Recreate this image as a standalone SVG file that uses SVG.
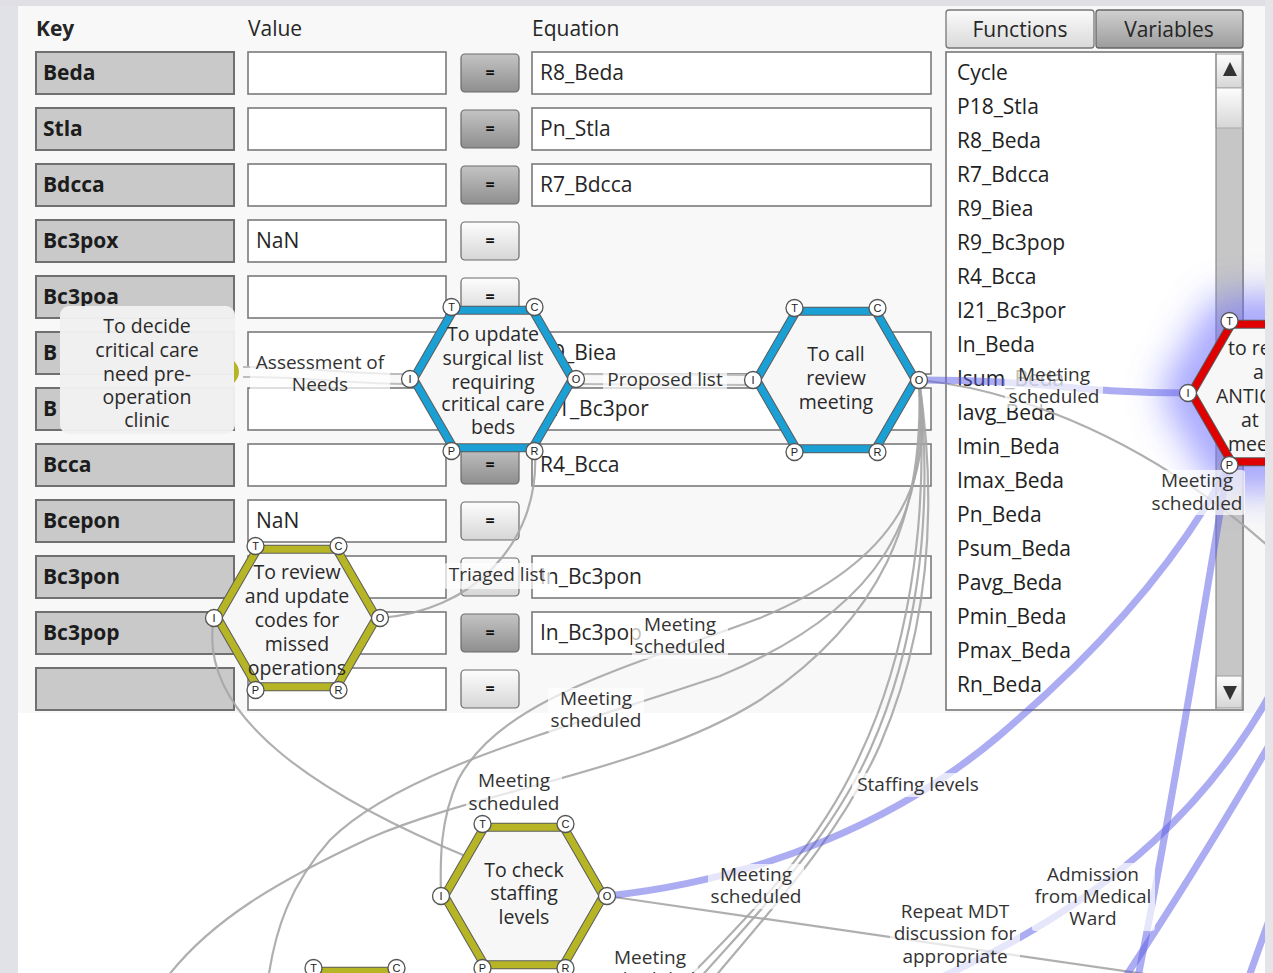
<svg xmlns="http://www.w3.org/2000/svg" width="1273" height="973" viewBox="0 0 1273 973">
<defs>
<style>
text{font-family:"Open Sans","Noto Sans","Liberation Sans",sans-serif;fill:#262626}
.hdr{font-size:21px}
.key{fill:#c9c9c9;stroke:#707070;stroke-width:2}
.keyt{font-size:21px;font-weight:700;fill:#1c1c1c}
.cell{fill:#fff;stroke:#7a7a7a;stroke-width:1.6}
.ct{font-size:21px}
.btn{stroke:#6a6a6a;stroke-width:1.2}
.bl{fill:url(#gBtnL)}
.bd{fill:url(#gBtnD)}
.eqs{font-size:16px;font-weight:700;text-anchor:middle;fill:#111}
.li{font-size:21px;fill:#222}
.hexfill{fill:#f7f7f7}
.ringout{fill:none;stroke:#5c5c5c;stroke-width:9}
.rblue{fill:none;stroke:#1aa0d4;stroke-width:7}
.rolive{fill:none;stroke:#b5b525;stroke-width:7}
.rred{fill:none;stroke:#e00000;stroke-width:7}
.ht{font-size:19.5px;text-anchor:middle;fill:#2a2a2a}
.hs{font-size:19.5px;text-anchor:start;fill:#2a2a2a}
.port{fill:#fff;stroke:#555;stroke-width:1.3}
.pt{font-family:"Liberation Sans",sans-serif;font-size:11px;text-anchor:middle;fill:#222}
.gray{fill:none;stroke:#a6a6a6;stroke-width:2.2;opacity:.9}
.blu{fill:none;stroke:#5a5ae6;stroke-width:7;opacity:.5;stroke-linecap:round}
.pipeo{fill:none;stroke:#bdbdbd;stroke-width:12}
.pipei{fill:none;stroke:#f8f8f8;stroke-width:8}
.lbg{fill:#fff;opacity:.7}
.lt{font-size:19px;text-anchor:middle;fill:#333}
</style>
<linearGradient id="gBtnL" x1="0" y1="0" x2="0" y2="1"><stop offset="0" stop-color="#fdfdfd"/><stop offset="1" stop-color="#d6d6d6"/></linearGradient>
<linearGradient id="gBtnD" x1="0" y1="0" x2="0" y2="1"><stop offset="0" stop-color="#c4c4c4"/><stop offset="1" stop-color="#8e8e8e"/></linearGradient>
<linearGradient id="gTabL" x1="0" y1="0" x2="0" y2="1"><stop offset="0" stop-color="#fbfbfb"/><stop offset="1" stop-color="#d9d9d9"/></linearGradient>
<linearGradient id="gTabD" x1="0" y1="0" x2="0" y2="1"><stop offset="0" stop-color="#d0d0d0"/><stop offset="1" stop-color="#9c9c9c"/></linearGradient>
<filter id="fGlow" x="-80%" y="-80%" width="260%" height="260%"><feGaussianBlur stdDeviation="20"/></filter>
<polygon id="hexRing" points="-79.5,0 -39.75,-68.85 39.75,-68.85 79.5,0 39.75,68.85 -39.75,68.85"/>
<polygon id="hexBody" points="-83,0 -41.5,-71.9 41.5,-71.9 83,0 41.5,71.9 -41.5,71.9"/>
</defs>

<!-- page background -->
<rect x="0" y="0" width="1273" height="973" fill="#ffffff"/>
<rect x="18" y="6" width="1247" height="707" fill="#f8f8f8"/>
<rect x="0" y="0" width="18" height="973" fill="#e1e2e7"/>
<rect x="0" y="0" width="1273" height="6" fill="#dfdfe4"/>

<!-- variable table -->
<g id="table">
<text class="hdr" x="36" y="36" font-weight="700">Key</text>
<text class="hdr" x="248" y="36">Value</text>
<text class="hdr" x="532" y="36">Equation</text>

<rect class="key" x="36" y="52" width="198" height="42"/><text class="keyt" x="43" y="80">Beda</text>
<rect class="cell" x="248" y="52" width="198" height="42"/>
<rect class="btn bd" x="461" y="54" width="58" height="38" rx="4"/><text class="eqs" x="490" y="78">=</text>
<rect class="cell" x="532" y="52" width="399" height="42"/><text class="ct" x="540" y="80">R8_Beda</text>

<rect class="key" x="36" y="108" width="198" height="42"/><text class="keyt" x="43" y="136">Stla</text>
<rect class="cell" x="248" y="108" width="198" height="42"/>
<rect class="btn bd" x="461" y="110" width="58" height="38" rx="4"/><text class="eqs" x="490" y="134">=</text>
<rect class="cell" x="532" y="108" width="399" height="42"/><text class="ct" x="540" y="136">Pn_Stla</text>

<rect class="key" x="36" y="164" width="198" height="42"/><text class="keyt" x="43" y="192">Bdcca</text>
<rect class="cell" x="248" y="164" width="198" height="42"/>
<rect class="btn bd" x="461" y="166" width="58" height="38" rx="4"/><text class="eqs" x="490" y="190">=</text>
<rect class="cell" x="532" y="164" width="399" height="42"/><text class="ct" x="540" y="192">R7_Bdcca</text>

<rect class="key" x="36" y="220" width="198" height="42"/><text class="keyt" x="43" y="248">Bc3pox</text>
<rect class="cell" x="248" y="220" width="198" height="42"/><text class="ct" x="256" y="248">NaN</text>
<rect class="btn bl" x="461" y="222" width="58" height="38" rx="4"/><text class="eqs" x="490" y="246">=</text>

<rect class="key" x="36" y="276" width="198" height="42"/><text class="keyt" x="43" y="304">Bc3poa</text>
<rect class="cell" x="248" y="276" width="198" height="42"/>
<rect class="btn bl" x="461" y="278" width="58" height="38" rx="4"/><text class="eqs" x="490" y="302">=</text>

<rect class="key" x="36" y="332" width="198" height="42"/><text class="keyt" x="43" y="360">B</text>
<rect class="cell" x="248" y="332" width="198" height="42"/>
<rect class="cell" x="532" y="332" width="399" height="42"/><text class="ct" x="540" y="360">R9_Biea</text>

<rect class="key" x="36" y="388" width="198" height="42"/><text class="keyt" x="43" y="416">B</text>
<rect class="cell" x="248" y="388" width="198" height="42"/>
<rect class="cell" x="532" y="388" width="399" height="42"/><text class="ct" x="540" y="416">I21_Bc3por</text>

<rect class="key" x="36" y="444" width="198" height="42"/><text class="keyt" x="43" y="472">Bcca</text>
<rect class="cell" x="248" y="444" width="198" height="42"/>
<rect class="btn bd" x="461" y="446" width="58" height="38" rx="4"/><text class="eqs" x="490" y="470">=</text>
<rect class="cell" x="532" y="444" width="399" height="42"/><text class="ct" x="540" y="472">R4_Bcca</text>

<rect class="key" x="36" y="500" width="198" height="42"/><text class="keyt" x="43" y="528">Bcepon</text>
<rect class="cell" x="248" y="500" width="198" height="42"/><text class="ct" x="256" y="528">NaN</text>
<rect class="btn bl" x="461" y="502" width="58" height="38" rx="4"/><text class="eqs" x="490" y="526">=</text>

<rect class="key" x="36" y="556" width="198" height="42"/><text class="keyt" x="43" y="584">Bc3pon</text>
<rect class="cell" x="248" y="556" width="198" height="42"/>
<rect class="btn bl" x="461" y="558" width="58" height="38" rx="4"/>
<rect class="cell" x="532" y="556" width="399" height="42"/><text class="ct" x="540" y="584">In_Bc3pon</text>

<rect class="key" x="36" y="612" width="198" height="42"/><text class="keyt" x="43" y="640">Bc3pop</text>
<rect class="cell" x="248" y="612" width="198" height="42"/>
<rect class="btn bd" x="461" y="614" width="58" height="38" rx="4"/><text class="eqs" x="490" y="638">=</text>
<rect class="cell" x="532" y="612" width="399" height="42"/><text class="ct" x="540" y="640">In_Bc3pop</text>

<rect class="key" x="36" y="668" width="198" height="42"/>
<rect class="cell" x="248" y="668" width="198" height="42"/>
<rect class="btn bl" x="461" y="670" width="58" height="38" rx="4"/><text class="eqs" x="490" y="694">=</text>
</g>

<!-- function / variable browser -->
<g id="browser">
<rect x="946" y="10" width="148" height="38" rx="3" fill="url(#gTabL)" stroke="#777" stroke-width="1.3"/>
<text class="hdr" x="1020" y="37" text-anchor="middle">Functions</text>
<rect x="1096" y="10" width="147" height="38" rx="3" fill="url(#gTabD)" stroke="#666" stroke-width="1.3"/>
<text class="hdr" x="1169" y="37" text-anchor="middle">Variables</text>
<rect x="946" y="52" width="297" height="658" fill="#fff" stroke="#777" stroke-width="1.6"/>
<rect x="1216" y="128" width="26" height="548" fill="#c6c6c6"/>
<rect x="1216" y="54" width="26" height="34" fill="url(#gBtnL)" stroke="#999" stroke-width="1"/>
<rect x="1216" y="88" width="26" height="40" fill="url(#gBtnL)" stroke="#aaa" stroke-width="1"/>
<rect x="1216" y="676" width="26" height="32" fill="url(#gBtnL)" stroke="#999" stroke-width="1"/>
<line x1="1216" y1="53" x2="1216" y2="709" stroke="#8a8a8a" stroke-width="1.2"/>
<polygon points="1223,76 1230,62 1237,76" fill="#333"/>
<polygon points="1223,686 1237,686 1230,700" fill="#333"/>
<text class="li" x="957" y="80">Cycle</text>
<text class="li" x="957" y="114">P18_Stla</text>
<text class="li" x="957" y="148">R8_Beda</text>
<text class="li" x="957" y="182">R7_Bdcca</text>
<text class="li" x="957" y="216">R9_Biea</text>
<text class="li" x="957" y="250">R9_Bc3pop</text>
<text class="li" x="957" y="284">R4_Bcca</text>
<text class="li" x="957" y="318">I21_Bc3por</text>
<text class="li" x="957" y="352">In_Beda</text>
<text class="li" x="957" y="386">Isum_Beda</text>
<text class="li" x="957" y="420">Iavg_Beda</text>
<text class="li" x="957" y="454">Imin_Beda</text>
<text class="li" x="957" y="488">Imax_Beda</text>
<text class="li" x="957" y="522">Pn_Beda</text>
<text class="li" x="957" y="556">Psum_Beda</text>
<text class="li" x="957" y="590">Pavg_Beda</text>
<text class="li" x="957" y="624">Pmin_Beda</text>
<text class="li" x="957" y="658">Pmax_Beda</text>
<text class="li" x="957" y="692">Rn_Beda</text>
</g>

<!-- highlight halo behind the selected activity -->
<g id="halo">
<use href="#hexBody" transform="translate(1271,393)" fill="none" stroke="#6a6aff" stroke-width="44" opacity="0.7" filter="url(#fGlow)"/>
</g>

<g id="connectors">
<!-- grey flows -->
<path class="gray" d="M535,452 C 540,545 470,612 380,618"/>
<path class="gray" d="M214,618 C 195,720 330,800 470,858"/>
<path class="gray" d="M919,380 C 935,480 900,560 760,618 C 620,670 500,700 458,780 C 440,820 440,860 441,896"/>
<path class="gray" d="M919,380 C 930,520 880,610 720,676 C 560,730 400,770 330,840 C 290,885 275,930 268,980"/>
<path class="gray" d="M919,380 C 925,520 880,620 760,700 C 650,770 480,790 370,838 C 280,880 210,920 165,980"/>
<path class="gray" d="M919,380 C 935,520 915,650 870,750 C 830,840 760,910 700,978"/>
<path class="gray" d="M919,380 C 930,530 905,660 860,755 C 820,845 750,915 688,978"/>
<path class="gray" d="M919,380 C 940,520 925,640 880,745 C 840,835 775,905 714,978"/>
<path class="gray" d="M919,380 C 1020,390 1150,440 1275,552"/>
<path class="gray" d="M607,896 C 700,910 900,940 1200,982"/>
<!-- blue flows -->
<path class="blu" d="M919,380 C 1050,380 1070,393 1188,393"/>
<path class="blu" d="M607,896 C 760,880 900,820 1000,735 C 1100,650 1180,560 1230,464"/>
<path class="blu" d="M1278,680 C 1220,790 1120,900 930,982"/>
<path class="blu" d="M1278,730 C 1220,830 1170,910 1122,982"/>
<path class="blu" d="M1228,466 C 1205,600 1170,820 1137,982"/>
<path class="blu" d="M1278,895 L1247,982"/>
<!-- pipes -->
<path class="pipeo" d="M243,372 C 320,372 340,379 410,379"/>
<path class="pipei" d="M243,372 C 320,372 340,379 410,379"/>
<path class="pipeo" d="M576,379 L752,380"/>
<path class="pipei" d="M576,379 L752,380"/>
<!-- flow labels -->
<rect class="lbg" x="250" y="352" width="140" height="44" rx="3"/>
<text class="lt" x="320" y="369">Assessment of</text><text class="lt" x="320" y="391">Needs</text>
<rect class="lbg" x="603" y="369" width="124" height="22" rx="3"/>
<text class="lt" x="665" y="386">Proposed list</text>
<rect class="lbg" x="1005" y="363" width="98" height="45" rx="3"/>
<text class="lt" x="1054" y="381">Meeting</text><text class="lt" x="1054" y="403">scheduled</text>
<rect class="lbg" x="444" y="563" width="106" height="26" rx="3"/>
<text class="lt" x="497" y="581">Triaged list</text>
<rect class="lbg" x="632" y="614" width="96" height="45" rx="3"/>
<text class="lt" x="680" y="631">Meeting</text><text class="lt" x="680" y="653">scheduled</text>
<rect class="lbg" x="548" y="688" width="96" height="45" rx="3"/>
<text class="lt" x="596" y="705">Meeting</text><text class="lt" x="596" y="727">scheduled</text>
<rect class="lbg" x="466" y="770" width="96" height="45" rx="3"/>
<text class="lt" x="514" y="787">Meeting</text><text class="lt" x="514" y="810">scheduled</text>
<rect class="lbg" x="852" y="773" width="133" height="24" rx="3"/>
<text class="lt" x="918" y="791">Staffing levels</text>
<rect class="lbg" x="708" y="864" width="96" height="45" rx="3"/>
<text class="lt" x="756" y="881">Meeting</text><text class="lt" x="756" y="903">scheduled</text>
<rect class="lbg" x="1149" y="470" width="96" height="45" rx="3"/>
<text class="lt" x="1197" y="487">Meeting</text><text class="lt" x="1197" y="510">scheduled</text>
<rect class="lbg" x="1032" y="863" width="123" height="68" rx="3"/>
<text class="lt" x="1093" y="881">Admission</text><text class="lt" x="1093" y="903">from Medical</text><text class="lt" x="1093" y="925">Ward</text>
<rect class="lbg" x="890" y="900" width="130" height="73" rx="3"/>
<text class="lt" x="955" y="918">Repeat MDT</text><text class="lt" x="955" y="940">discussion for</text><text class="lt" x="955" y="963">appropriate</text>
<rect class="lbg" x="602" y="946" width="96" height="27" rx="3"/>
<text class="lt" x="650" y="964">Meeting</text><text class="lt" x="650" y="986">scheduled</text>
</g>

<!-- activity: decide critical care need -->
<g id="node-decide-critical-care">
<rect x="60" y="306" width="175" height="128" rx="9" fill="#f1f1f1" opacity="0.97"/>
<path d="M234,361 Q244,372 234,383 Z" fill="#b5b525"/>
<text class="ht" x="147" y="333">To decide</text>
<text class="ht" x="147" y="357">critical care</text>
<text class="ht" x="147" y="381">need pre-</text>
<text class="ht" x="147" y="404">operation</text>
<text class="ht" x="147" y="427">clinic</text>
</g>

<!-- activity: update surgical list -->
<g id="node-update-surgical-list" transform="translate(493,379)">
<use href="#hexBody" class="hexfill"/>
<use href="#hexRing" class="ringout"/>
<use href="#hexRing" class="rblue"/>
<text class="ht" x="0" y="-38">To update</text>
<text class="ht" x="0" y="-14">surgical list</text>
<text class="ht" x="0" y="10">requiring</text>
<text class="ht" x="0" y="32">critical care</text>
<text class="ht" x="0" y="55">beds</text>
<circle class="port" cx="-41.5" cy="-72" r="8.5"/><text class="pt" x="-41.5" y="-68">T</text>
<circle class="port" cx="41.5" cy="-72" r="8.5"/><text class="pt" x="41.5" y="-68">C</text>
<circle class="port" cx="83" cy="0" r="8.5"/><text class="pt" x="83" y="4">O</text>
<circle class="port" cx="41.5" cy="72" r="8.5"/><text class="pt" x="41.5" y="76">R</text>
<circle class="port" cx="-41.5" cy="72" r="8.5"/><text class="pt" x="-41.5" y="76">P</text>
<circle class="port" cx="-83" cy="0" r="8.5"/><text class="pt" x="-83" y="4">I</text>
</g>

<!-- activity: call review meeting -->
<g id="node-call-review-meeting" transform="translate(836,380)">
<use href="#hexBody" class="hexfill"/>
<use href="#hexRing" class="ringout"/>
<use href="#hexRing" class="rblue"/>
<text class="ht" x="0" y="-19">To call</text>
<text class="ht" x="0" y="5">review</text>
<text class="ht" x="0" y="29">meeting</text>
<circle class="port" cx="-41.5" cy="-72" r="8.5"/><text class="pt" x="-41.5" y="-68">T</text>
<circle class="port" cx="41.5" cy="-72" r="8.5"/><text class="pt" x="41.5" y="-68">C</text>
<circle class="port" cx="83" cy="0" r="8.5"/><text class="pt" x="83" y="4">O</text>
<circle class="port" cx="41.5" cy="72" r="8.5"/><text class="pt" x="41.5" y="76">R</text>
<circle class="port" cx="-41.5" cy="72" r="8.5"/><text class="pt" x="-41.5" y="76">P</text>
<circle class="port" cx="-83" cy="0" r="8.5"/><text class="pt" x="-83" y="4">I</text>
</g>

<!-- activity: review and update codes -->
<g id="node-review-codes" transform="translate(297,618)">
<use href="#hexBody" class="hexfill"/>
<use href="#hexRing" class="ringout"/>
<use href="#hexRing" class="rolive"/>
<text class="ht" x="0" y="-39">To review</text>
<text class="ht" x="0" y="-15">and update</text>
<text class="ht" x="0" y="9">codes for</text>
<text class="ht" x="0" y="33">missed</text>
<text class="ht" x="0" y="57">operations</text>
<circle class="port" cx="-41.5" cy="-72" r="8.5"/><text class="pt" x="-41.5" y="-68">T</text>
<circle class="port" cx="41.5" cy="-72" r="8.5"/><text class="pt" x="41.5" y="-68">C</text>
<circle class="port" cx="83" cy="0" r="8.5"/><text class="pt" x="83" y="4">O</text>
<circle class="port" cx="41.5" cy="72" r="8.5"/><text class="pt" x="41.5" y="76">R</text>
<circle class="port" cx="-41.5" cy="72" r="8.5"/><text class="pt" x="-41.5" y="76">P</text>
<circle class="port" cx="-83" cy="0" r="8.5"/><text class="pt" x="-83" y="4">I</text>
</g>

<!-- activity: check staffing levels -->
<g id="node-check-staffing" transform="translate(524,896)">
<use href="#hexBody" class="hexfill"/>
<use href="#hexRing" class="ringout"/>
<use href="#hexRing" class="rolive"/>
<text class="ht" x="0" y="-19">To check</text>
<text class="ht" x="0" y="4">staffing</text>
<text class="ht" x="0" y="28">levels</text>
<circle class="port" cx="-41.5" cy="-72" r="8.5"/><text class="pt" x="-41.5" y="-68">T</text>
<circle class="port" cx="41.5" cy="-72" r="8.5"/><text class="pt" x="41.5" y="-68">C</text>
<circle class="port" cx="83" cy="0" r="8.5"/><text class="pt" x="83" y="4">O</text>
<circle class="port" cx="41.5" cy="72" r="8.5"/><text class="pt" x="41.5" y="76">R</text>
<circle class="port" cx="-41.5" cy="72" r="8.5"/><text class="pt" x="-41.5" y="76">P</text>
<circle class="port" cx="-83" cy="0" r="8.5"/><text class="pt" x="-83" y="4">I</text>
</g>

<!-- activity below the visible area -->
<g id="node-lower" transform="translate(355,1040)">
<use href="#hexBody" class="hexfill"/>
<use href="#hexRing" class="ringout"/>
<use href="#hexRing" class="rolive"/>
<circle class="port" cx="-41.5" cy="-72" r="8.5"/><text class="pt" x="-41.5" y="-68">T</text>
<circle class="port" cx="41.5" cy="-72" r="8.5"/><text class="pt" x="41.5" y="-68">C</text>
</g>

<!-- selected activity at the right edge -->
<g id="node-review-anticipated" transform="translate(1271,393)">
<use href="#hexBody" class="hexfill"/>
<use href="#hexRing" class="ringout"/>
<use href="#hexRing" class="rred"/>
<text class="hs" x="-43" y="-38">to re</text>
<text class="hs" x="-18" y="-14">a</text>
<text class="hs" x="-55" y="10">ANTIC</text>
<text class="hs" x="-30" y="34">at</text>
<text class="hs" x="-43" y="58">mee</text>
<circle class="port" cx="-41.5" cy="-72" r="8.5"/><text class="pt" x="-41.5" y="-68">T</text>
<circle class="port" cx="-83" cy="0" r="8.5"/><text class="pt" x="-83" y="4">I</text>
<circle class="port" cx="-41.5" cy="72" r="8.5"/><text class="pt" x="-41.5" y="76">P</text>
</g>

<!-- window frame on the right -->
<rect x="1265" y="0" width="8" height="973" fill="#e4e4e9"/>
</svg>
